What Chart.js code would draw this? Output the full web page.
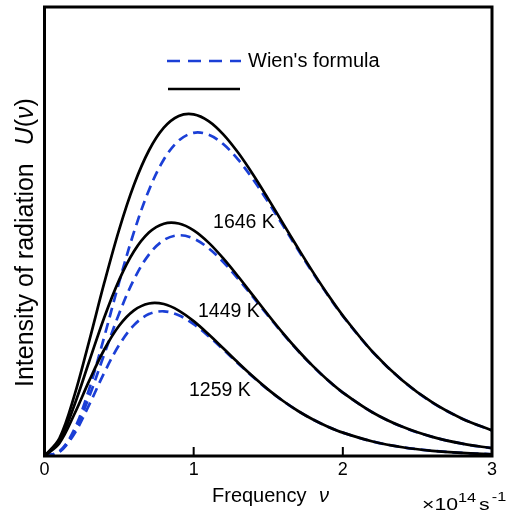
<!DOCTYPE html>
<html>
<head>
<meta charset="utf-8">
<script src="https://cdn.jsdelivr.net/npm/chart.js@4.4.1/dist/chart.umd.min.js"></script>
<style>
  html, body { margin: 0; padding: 0; background: #fff; }
  #wrap { width: 518px; height: 512px; }
</style>
</head>
<body>
<div id="wrap"><canvas id="chart" width="518" height="512"></canvas></div>
<script>
const FONT = "'Liberation Sans', Arial, Helvetica, sans-serif";
const BLUE = '#1b3fd6';

// frequency, x10^14 s^-1
const freq = [0, 0.1, 0.2, 0.3, 0.4, 0.5, 0.6, 0.7, 0.8, 0.9, 1.0, 1.1, 1.2, 1.3, 1.4, 1.5, 1.6, 1.7, 1.8, 1.9, 2.0, 2.2, 2.4, 2.6, 2.8, 3.0];

// intensity (arbitrary units)
const planck1646 = [0, 3.93, 13.43, 25.66, 38.48, 50.38, 60.41, 68.04, 73.12, 75.73, 76.10, 74.59, 71.59, 67.47, 62.59, 57.26, 51.75, 46.27, 40.95, 35.93, 31.28, 23.20, 16.81, 11.92, 8.31, 5.70];
const wien1646   = [0, 0.99, 5.93, 14.96, 26.49, 38.66, 49.90, 59.21, 66.03, 70.24, 71.98, 71.57, 69.42, 65.94, 61.53, 56.54, 51.26, 45.94, 40.73, 35.79, 31.18, 23.17, 16.79, 11.91, 8.31, 5.70];
const planck1449 = [0, 3.38, 11.32, 21.09, 30.80, 39.18, 45.59, 49.76, 51.74, 51.78, 50.25, 47.52, 43.96, 39.92, 35.66, 31.41, 27.32, 23.50, 20.01, 16.88, 14.13, 9.69, 6.49, 4.25, 2.74, 1.74];
const wien1449   = [0, 0.95, 5.48, 13.28, 22.61, 31.70, 39.34, 44.86, 48.08, 49.16, 48.42, 46.28, 43.14, 39.38, 35.32, 31.19, 27.18, 23.41, 19.96, 16.85, 14.12, 9.69, 6.49, 4.25, 2.74, 1.74];
const planck1259 = [0, 2.86, 9.30, 16.78, 23.66, 29.01, 32.44, 33.97, 33.84, 32.39, 30.04, 27.11, 23.93, 20.71, 17.63, 14.79, 12.25, 10.02, 8.12, 6.52, 5.20, 3.23, 1.95, 1.16, 0.68, 0.39];
const wien1259   = [0, 0.91, 4.96, 11.43, 18.51, 24.70, 29.15, 31.61, 32.23, 31.35, 29.38, 26.70, 23.68, 20.57, 17.54, 14.74, 12.22, 10.01, 8.11, 6.52, 5.20, 3.23, 1.95, 1.16, 0.68, 0.39];

const tempNames = ['1646 K', '1449 K', '1259 K'];
const tempAt = [[1.337, 51.9], [1.236, 32.1], [1.176, 14.5]];
const innerTicks = [1, 2];

const pts = (ys) => freq.map((x, i) => ({ x, y: ys[i] }));

function curve(label, ys, dashed) {
  return {
    label,
    data: pts(ys),
    borderColor: dashed ? BLUE : '#000',
    borderWidth: 2.7,
    borderDash: dashed ? [10, 6] : [],
    pointRadius: 0,
    fill: false,
    tension: 0.35,
  };
}

const decorPlugin = {
  id: 'decor',
  afterDraw(chart) {
    const { ctx, chartArea: a, scales } = chart;
    const xs = scales.x, ys = scales.y;
    ctx.save();

    // frame
    ctx.strokeStyle = '#000';
    ctx.lineWidth = 3;
    ctx.setLineDash([]);
    ctx.strokeRect(a.left, a.top, a.right - a.left, a.bottom - a.top);

    // inward ticks
    ctx.lineWidth = 2;
    innerTicks.forEach((v) => {
      const px = xs.getPixelForValue(v);
      ctx.beginPath();
      ctx.moveTo(px, a.bottom);
      ctx.lineTo(px, a.bottom - 9);
      ctx.stroke();
    });

    ctx.fillStyle = '#000';
    ctx.textBaseline = 'middle';
    ctx.textAlign = 'center';
    ctx.font = `19.5px ${FONT}`;
    tempNames.forEach((t, i) => {
      ctx.fillText(t, xs.getPixelForValue(tempAt[i][0]), ys.getPixelForValue(tempAt[i][1]));
    });

    // legend
    ctx.lineWidth = 2.7;
    ctx.strokeStyle = BLUE;
    ctx.setLineDash([13, 8]);
    ctx.beginPath();
    ctx.moveTo(167, 61);
    ctx.lineTo(241, 61);
    ctx.stroke();
    ctx.setLineDash([]);
    ctx.strokeStyle = '#000';
    ctx.beginPath();
    ctx.moveTo(168, 89);
    ctx.lineTo(240, 89);
    ctx.stroke();
    ctx.textAlign = 'left';
    ctx.textBaseline = 'alphabetic';
    ctx.font = `20px ${FONT}`;
    ctx.fillText("Wien's formula", 248, 67);

    // x title
    ctx.font = `20px ${FONT}`;
    ctx.fillText('Frequency', 212, 502);
    ctx.font = `italic 20px ${FONT}`;
    ctx.fillText('\u03bd', 319, 502);

    // unit (slightly widened, like the original lettering)
    let ux = 422;
    const unit = [['\u00d710', 17, 510, 0], ['14', 13, 502, 3], ['s', 17, 510, 2], ['-1', 13, 501, 0]];
    unit.forEach(([s, size, base, gap]) => {
      ctx.font = `${size}px ${FONT}`;
      ctx.save();
      ctx.translate(ux, base);
      ctx.scale(1.25, 1);
      ctx.fillText(s, 0, 0);
      ctx.restore();
      ux += ctx.measureText(s).width * 1.25 + gap;
    });

    // y title
    ctx.translate(33, 387);
    ctx.rotate(-Math.PI / 2);
    let x = 0;
    const parts = [
      ['Intensity of radiation', ''],
      ['U', 'italic '],
      ['(', ''],
      ['\u03bd', 'italic '],
      [')', ''],
    ];
    parts.forEach(([s, st], i) => {
      ctx.font = `${st}25px ${FONT}`;
      ctx.fillText(s, x, 0);
      x += ctx.measureText(s).width + (i === 0 ? 18 : 0);
    });
    ctx.restore();
  },
};

new Chart(document.getElementById('chart'), {
  type: 'line',
  data: {
    datasets: [
      curve('1646 K', planck1646, false),
      curve('1449 K', planck1449, false),
      curve('1259 K', planck1259, false),
      curve("Wien's formula 1646 K", wien1646, true),
      curve("Wien's formula 1449 K", wien1449, true),
      curve("Wien's formula 1259 K", wien1259, true),
    ],
  },
  options: {
    responsive: false,
    animation: false,
    layout: { padding: { left: 44.5, right: 26, top: 7, bottom: 28.4 } },
    plugins: { legend: { display: false }, tooltip: { enabled: false } },
    scales: {
      x: {
        type: 'linear',
        min: 0,
        max: 3,
        ticks: { stepSize: 1, color: '#000', padding: 3, font: { family: FONT, size: 18 } },
        grid: { display: false, drawTicks: false },
        border: { display: false },
      },
      y: { display: false, min: 0, max: 100 },
    },
  },
  plugins: [decorPlugin],
});
</script>
</body>
</html>
